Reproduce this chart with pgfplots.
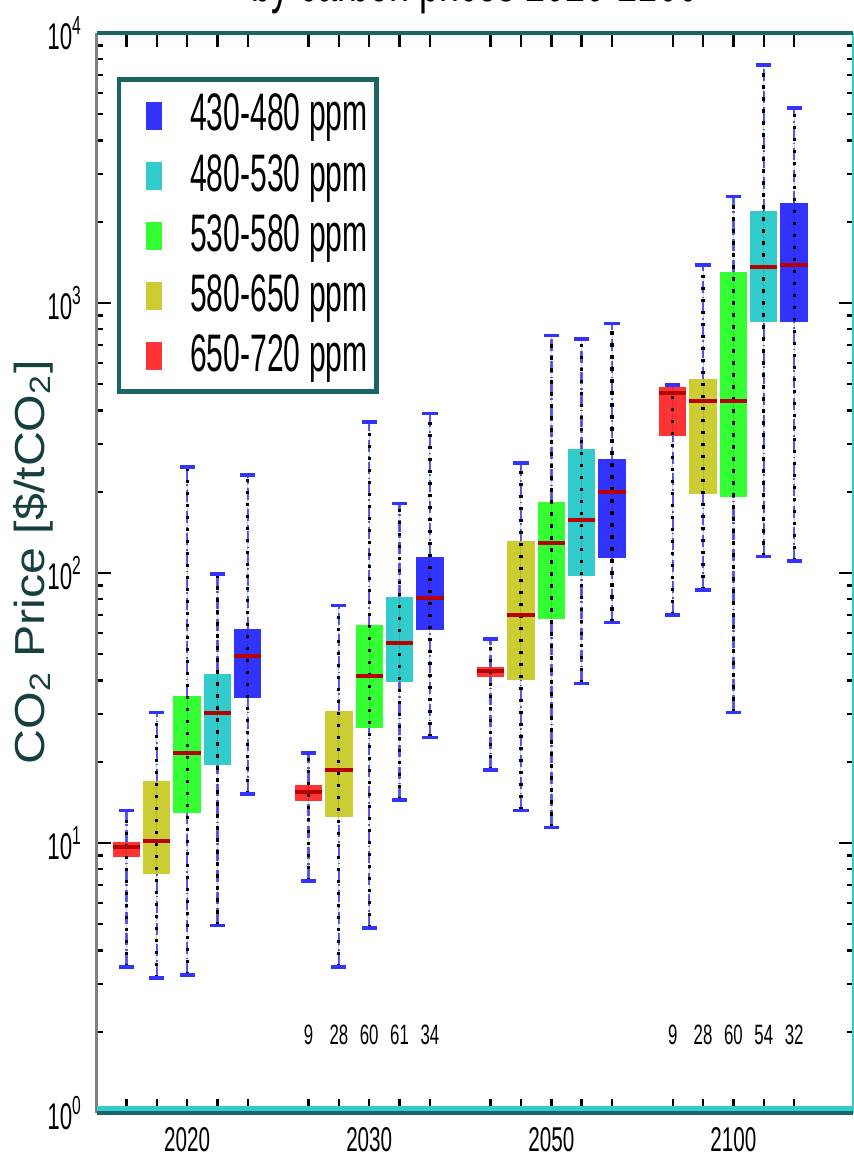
\documentclass[border=0pt]{standalone}
\usepackage{fontspec}
\setmainfont{Liberation Sans}[FakeStretch=0.6]
\newfontfamily\ylabfont{Liberation Sans}[FakeStretch=1.15]
\newfontfamily\legfont{Liberation Sans}[FakeStretch=0.57]
\usepackage{pgfplots}
\pgfplotsset{compat=1.18}
\usepgfplotslibrary{statistics}

\definecolor{cBlue}{RGB}{51,51,255}
\definecolor{cCyan}{RGB}{51,204,204}
\definecolor{cGreen}{RGB}{51,255,51}
\definecolor{cYellow}{RGB}{204,204,51}
\definecolor{cRed}{RGB}{255,51,51}
\definecolor{cMed}{RGB}{185,0,0}
\definecolor{cTeal}{RGB}{26,102,102}
\definecolor{cGrey}{RGB}{128,128,128}
\definecolor{cLabel}{RGB}{22,64,64}

% box style: filled box; the median step draws whiskers, dotted sample column, median, caps
\pgfplotsset{
  co2box/.style={
    draw=none,
    boxplot/draw direction=y,
    boxplot/box extend=0.9,
    boxplot/whisker extend=0.5,
    boxplot/draw/box/.code={%
      \fill (boxplot box cs:\pgfplotsboxplotvalue{lower quartile},0) rectangle
            (boxplot box cs:\pgfplotsboxplotvalue{upper quartile},1);
    },
    boxplot/draw/lower whisker/.code={},
    boxplot/draw/upper whisker/.code={},
    boxplot/draw/median/.code={%
      \draw[cBlue!80, densely dashdotted, line width=0.6pt]
        (boxplot cs:\pgfplotsboxplotvalue{lower whisker}) --
        (boxplot cs:\pgfplotsboxplotvalue{lower quartile})
        (boxplot cs:\pgfplotsboxplotvalue{upper quartile}) --
        (boxplot cs:\pgfplotsboxplotvalue{upper whisker});
      \draw[black, line width=0.8pt, dash pattern=on 0.8pt off 2.2pt]
        (boxplot cs:\pgfplotsboxplotvalue{lower whisker}) --
        (boxplot cs:\pgfplotsboxplotvalue{upper whisker});
      \draw[cMed, line width=1pt]
        (boxplot box cs:\pgfplotsboxplotvalue{median},0) --
        (boxplot box cs:\pgfplotsboxplotvalue{median},1);
      \draw[cBlue, line width=0.9pt]
        (boxplot whisker cs:\pgfplotsboxplotvalue{lower whisker},0) --
        (boxplot whisker cs:\pgfplotsboxplotvalue{lower whisker},1)
        (boxplot whisker cs:\pgfplotsboxplotvalue{upper whisker},0) --
        (boxplot whisker cs:\pgfplotsboxplotvalue{upper whisker},1);
    },
  },
  legsq/.style={legend image code/.code={%
    \path (-7pt,0);
    \fill[##1, draw=none] (-2pt,-3.5pt) rectangle (2pt,3.5pt);}},
}

\begin{document}
\begin{tikzpicture}
\begin{axis}[
  scale only axis,
  width=189pt, height=270pt,
  ymode=log,
  xmin=-0.97, xmax=23.94,
  ymin=1, ymax=10000,
  clip=false,
  axis line style={draw=none},
  xtick={0,1,2,3,4,6,7,8,9,10,12,13,14,15,16,18,19,20,21,22},
  xticklabels={,,2020,,,,,2030,,,,,2050,,,,,2100,,},
  ytick={1,10,100,1000,10000},
  yticklabels={10\textsuperscript{0},10\textsuperscript{1},10\textsuperscript{2},10\textsuperscript{3},10\textsuperscript{4}},
  tick align=inside,
  major tick length=3.5pt,
  minor tick length=1.6pt,
  tick style={black, line width=0.6pt},
  x tick label style={font=\fontsize{8.6}{10}\selectfont},
  y tick label style={font=\fontsize{9.3}{10}\selectfont},
  legend cell align=left,
  legend style={at={(rel axis cs:0.026,0.959)}, anchor=north west,
    draw=cTeal, line width=1.2pt, fill=white,
    inner xsep=1.2pt, inner ysep=2.6pt, row sep=2.3pt,
    nodes={inner sep=1pt},
    font=\legfont\fontsize{13.2}{14}\selectfont},
  /tikz/every odd column/.append style={column sep=6pt},
]
\addlegendimage{legsq, fill=cBlue}   \addlegendentry{430-480 ppm}
\addlegendimage{legsq, fill=cCyan}   \addlegendentry{480-530 ppm}
\addlegendimage{legsq, fill=cGreen}  \addlegendentry{530-580 ppm}
\addlegendimage{legsq, fill=cYellow} \addlegendentry{580-650 ppm}
\addlegendimage{legsq, fill=cRed}    \addlegendentry{650-720 ppm}

% 2020
\addplot[co2box, fill=cRed,    boxplot prepared={draw position=0, lower whisker=3.48, lower quartile=8.85, median=9.67, upper quartile=10.1, upper whisker=13.2}] coordinates {};
\addplot[co2box, fill=cYellow, boxplot prepared={draw position=1, lower whisker=3.16, lower quartile=7.66, median=10.2, upper quartile=16.9, upper whisker=30.4}] coordinates {};
\addplot[co2box, fill=cGreen,  boxplot prepared={draw position=2, lower whisker=3.24, lower quartile=12.9, median=21.5, upper quartile=35.0, upper whisker=247}] coordinates {};
\addplot[co2box, fill=cCyan,   boxplot prepared={draw position=3, lower whisker=4.94, lower quartile=19.4, median=30.4, upper quartile=42.3, upper whisker=99}] coordinates {};
\addplot[co2box, fill=cBlue,   boxplot prepared={draw position=4, lower whisker=15.2, lower quartile=34.4, median=49.4, upper quartile=61.9, upper whisker=231}] coordinates {};
% 2030
\addplot[co2box, fill=cRed,    boxplot prepared={draw position=6, lower whisker=7.23, lower quartile=14.3, median=15.5, upper quartile=16.4, upper whisker=21.5}] coordinates {};
\addplot[co2box, fill=cYellow, boxplot prepared={draw position=7, lower whisker=3.48, lower quartile=12.5, median=18.6, upper quartile=30.8, upper whisker=75.7}] coordinates {};
\addplot[co2box, fill=cGreen,  boxplot prepared={draw position=8, lower whisker=4.84, lower quartile=26.6, median=41.7, upper quartile=64.2, upper whisker=363}] coordinates {};
\addplot[co2box, fill=cCyan,   boxplot prepared={draw position=9, lower whisker=14.4, lower quartile=39.6, median=54.9, upper quartile=81.7, upper whisker=181}] coordinates {};
\addplot[co2box, fill=cBlue,   boxplot prepared={draw position=10, lower whisker=24.6, lower quartile=61.5, median=80.6, upper quartile=115, upper whisker=390}] coordinates {};
% 2050
\addplot[co2box, fill=cRed,    boxplot prepared={draw position=12, lower whisker=18.6, lower quartile=41.3, median=43.4, upper quartile=45, upper whisker=57}] coordinates {};
\addplot[co2box, fill=cYellow, boxplot prepared={draw position=13, lower whisker=13.2, lower quartile=40.1, median=69.9, upper quartile=131.7, upper whisker=256}] coordinates {};
\addplot[co2box, fill=cGreen,  boxplot prepared={draw position=14, lower whisker=11.4, lower quartile=67.5, median=129.5, upper quartile=183, upper whisker=757}] coordinates {};
\addplot[co2box, fill=cCyan,   boxplot prepared={draw position=15, lower whisker=39, lower quartile=97.7, median=157, upper quartile=288, upper whisker=734}] coordinates {};
\addplot[co2box, fill=cBlue,   boxplot prepared={draw position=16, lower whisker=65.5, lower quartile=114, median=200, upper quartile=264, upper whisker=841}] coordinates {};
% 2100
\addplot[co2box, fill=cRed,    boxplot prepared={draw position=18, lower whisker=69.9, lower quartile=322, median=465, upper quartile=487, upper whisker=497}] coordinates {};
\addplot[co2box, fill=cYellow, boxplot prepared={draw position=19, lower whisker=86.5, lower quartile=197, median=433, upper quartile=522, upper whisker=1381}] coordinates {};
\addplot[co2box, fill=cGreen,  boxplot prepared={draw position=20, lower whisker=30.4, lower quartile=192, median=433, upper quartile=1300, upper whisker=2476}] coordinates {};
\addplot[co2box, fill=cCyan,   boxplot prepared={draw position=21, lower whisker=115, lower quartile=853, median=1356, upper quartile=2193, upper whisker=7608}] coordinates {};
\addplot[co2box, fill=cBlue,   boxplot prepared={draw position=22, lower whisker=111, lower quartile=853, median=1383, upper quartile=2340, upper whisker=5275}] coordinates {};

% scenario counts
\foreach \p/\n in {6/9,7/28,8/60,9/61,10/34,18/9,19/28,20/60,21/54,22/32}{
  \edef\temp{\noexpand\node[font=\noexpand\fontsize{7}{8}\noexpand\selectfont] at (axis cs:\p,1.95) {\n};}
  \temp
}

% frame
\draw[cGrey, line width=0.75pt] (rel axis cs:0,0) -- (rel axis cs:0,1);
\draw[cCyan, line width=0.75pt] (rel axis cs:1,0) -- (rel axis cs:1,1);
\draw[cTeal, line width=1pt] (rel axis cs:0,1) -- (rel axis cs:1,1);
\draw[cCyan, line width=1.3pt] ([yshift=1.2pt]rel axis cs:0,0) -- ([yshift=1.2pt]rel axis cs:1,0);
\draw[cTeal, line width=0.9pt] (rel axis cs:0,0) -- (rel axis cs:1,0);

\node[rotate=90, text=cLabel, font=\ylabfont\fontsize{10.5}{12}\selectfont]
  at (rel axis cs:-0.0847,0.51) {CO\textsubscript{2} Price [\$/tCO\textsubscript{2}]};
\node[anchor=base, font=\fontsize{15}{18}\selectfont]
  at ([yshift=7.9pt]rel axis cs:0.5,1) {by carbon prices 2020-2100};

\coordinate (SW) at (rel axis cs:0,0);
\coordinate (NE) at (rel axis cs:1,1);
\end{axis}
\pgfresetboundingbox
\path ([shift={(-24.25pt,-11.25pt)}]SW) rectangle ([shift={(0.2pt,8.25pt)}]NE);
\end{tikzpicture}
\end{document}
